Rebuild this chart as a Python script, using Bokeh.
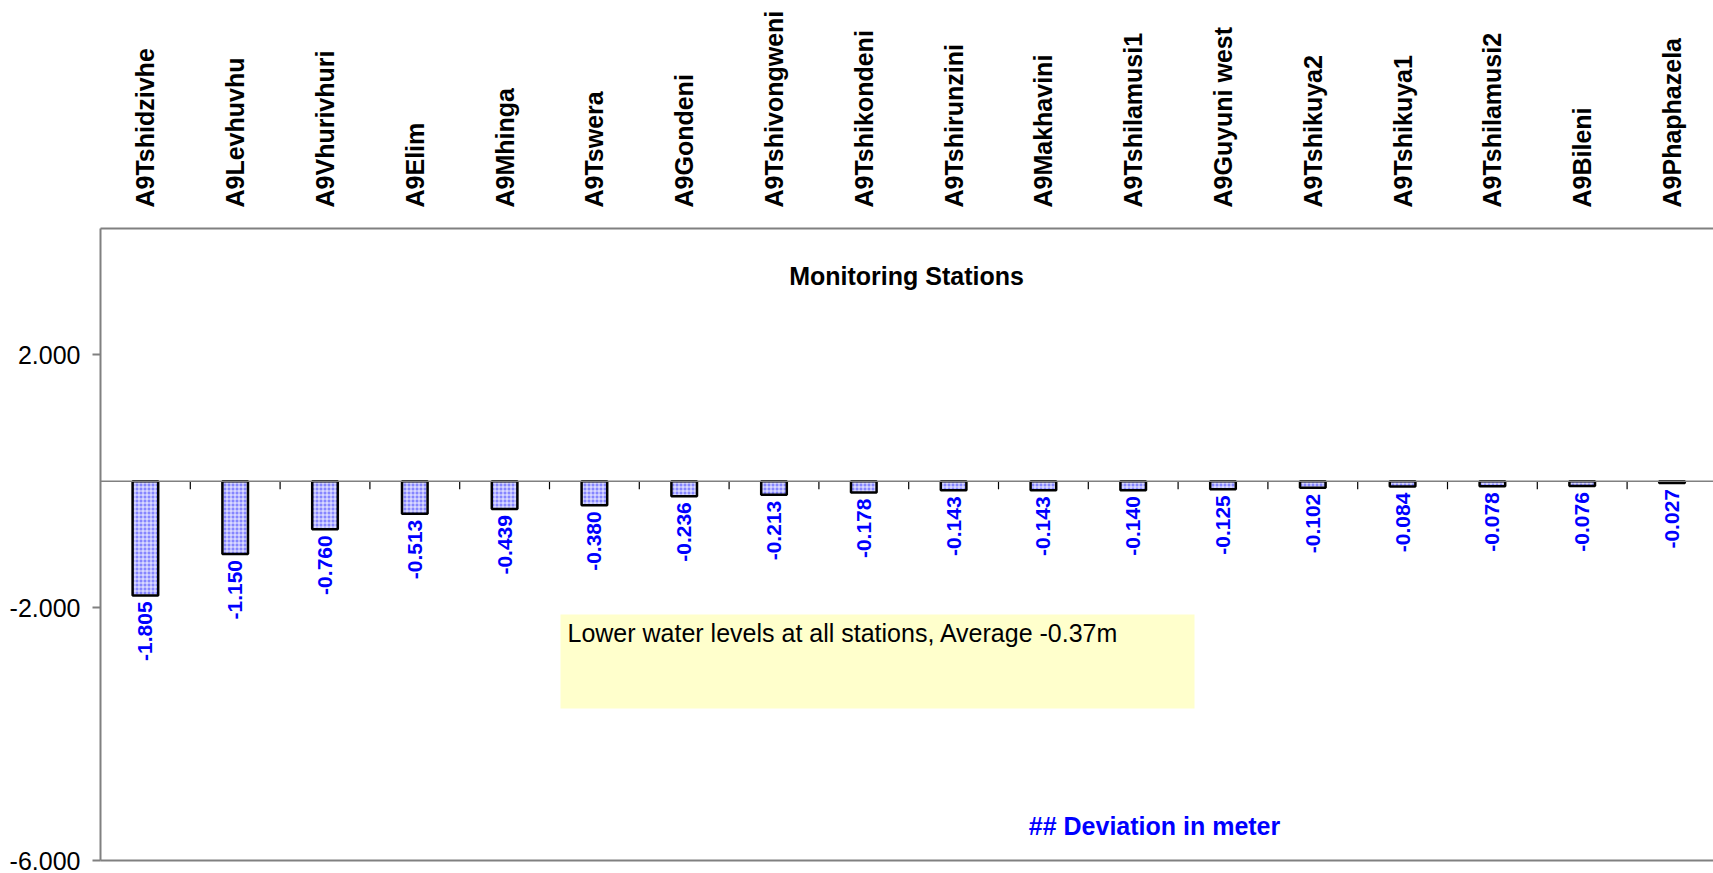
import math

from bokeh.plotting import figure
from bokeh.models import (Range1d, LinearAxis, FixedTicker, NumeralTickFormatter,
                          Label, BoxAnnotation, Span)
from bokeh.core.properties import value
from bokeh.embed import file_html
from bokeh.resources import INLINE

# Water level deviation per monitoring station (m)
stations = [
    "A9Tshidzivhe", "A9Levhuvhu", "A9Vhurivhuri", "A9Elim", "A9Mhinga",
    "A9Tswera", "A9Gondeni", "A9Tshivongweni", "A9Tshikondeni", "A9Tshirunzini",
    "A9Makhavini", "A9Tshilamusi1", "A9Guyuni west", "A9Tshikuya2", "A9Tshikuya1",
    "A9Tshilamusi2", "A9Bileni", "A9Phaphazela",
]
deviation = [
    -1.805, -1.150, -0.760, -0.513, -0.439,
    -0.380, -0.236, -0.213, -0.178, -0.143,
    -0.143, -0.140, -0.125, -0.102, -0.084,
    -0.078, -0.076, -0.027,
]
y_ticks = [-6, -2, 2]

average = sum(deviation) / len(deviation)

# ---- layout in pixels ----
W, H = 1713, 873
LEFT, TOP, BOTTOM = 100, 228, 13
CAT_PX = 89.8
Y_MIN, Y_MAX = -6, 4
frame_w = W - LEFT
frame_h = H - TOP - BOTTOM
unit_px = frame_h / (Y_MAX - Y_MIN)
x_end = frame_w / CAT_PX


def px_x(px):
    return (px - LEFT) / CAT_PX


def px_y(py):
    return Y_MAX - (py - TOP) / unit_px


FONT = "Liberation Sans"
GREY = "#808080"
BLUE = "#0000ff"

p = figure(width=W, height=H, x_range=Range1d(0, x_end), y_range=Range1d(Y_MIN, Y_MAX),
           x_axis_location=None, y_axis_location=None,
           output_backend="svg", toolbar_location=None,
           min_border_left=LEFT, min_border_top=TOP, min_border_bottom=BOTTOM,
           min_border_right=0)
p.outline_line_color = None
p.grid.visible = False
p.background_fill_color = "white"
p.border_fill_color = "white"

# value axis
yaxis = LinearAxis(ticker=FixedTicker(ticks=y_ticks),
                   formatter=NumeralTickFormatter(format="0.000"),
                   axis_line_color=GREY, axis_line_width=2,
                   major_tick_line_color=GREY, major_tick_line_width=2,
                   major_tick_in=0, major_tick_out=8,
                   minor_tick_line_color=None,
                   major_label_text_font=FONT, major_label_text_font_size="25px",
                   major_label_text_color="black", major_label_standoff=12)
p.add_layout(yaxis, "left")

# station names along the top
centers = [i + 0.5 for i in range(len(stations))]
xaxis = LinearAxis(ticker=FixedTicker(ticks=centers),
                   major_label_overrides={c: s for c, s in zip(centers, stations)},
                   major_label_orientation=math.pi / 2,
                   axis_line_color=GREY, axis_line_width=2,
                   major_tick_line_color=None, minor_tick_line_color=None,
                   major_tick_in=0, major_tick_out=0,
                   major_label_text_font=FONT, major_label_text_font_style="bold",
                   major_label_text_font_size="25px", major_label_text_color="black",
                   major_label_standoff=21)
p.add_layout(xaxis, "above")

# bottom border line
bottom_axis = LinearAxis(ticker=FixedTicker(ticks=[]),
                         axis_line_color=GREY, axis_line_width=2,
                         major_tick_line_color=None, minor_tick_line_color=None,
                         major_tick_in=0, major_tick_out=0,
                         major_label_text_font_size="0px", major_label_standoff=0)
p.add_layout(bottom_axis, "below")

# zero line with category tick marks
p.add_layout(Span(location=0, dimension="width", line_color=GREY, line_width=1.5))
bounds = list(range(1, len(stations) + 1))
tick_len = 8 / unit_px
p.segment(x0=bounds, y0=[0] * len(bounds), x1=bounds, y1=[-tick_len] * len(bounds),
          line_color="black", line_width=1.2)

# bars with a fine checked fill
p.vbar(x=centers, top=0, bottom=deviation, width=0.285,
       fill_color="#8585ff", line_color="black", line_width=2.5,
       hatch_pattern="cross", hatch_color="white", hatch_scale=4,
       hatch_weight=1.0, hatch_alpha=0.85)

# value labels below each bar
gap = 6 / unit_px
p.text(x=centers, y=[v - gap for v in deviation], text=[f"{v:.3f}" for v in deviation],
       angle=math.pi / 2, text_align="right", text_baseline="middle",
       text_font=value(FONT), text_font_style="bold", text_font_size="21px",
       text_color=BLUE)

# note box
p.add_layout(BoxAnnotation(left=px_x(560), right=px_x(1194), top=px_y(614), bottom=px_y(708),
                           fill_color="#ffffcc", fill_alpha=1.0, line_color=None,
                           level="underlay"))
p.add_layout(Label(x=px_x(567), y=px_y(632),
                   text=f"Lower water levels at all stations, Average {average:.2f}m",
                   text_font=FONT, text_font_size="25px", text_color="black",
                   text_align="left", text_baseline="middle"))

p.add_layout(Label(x=px_x(906), y=px_y(275), text="Monitoring Stations",
                   text_font=FONT, text_font_style="bold", text_font_size="25px",
                   text_color="black", text_align="center", text_baseline="middle"))

p.add_layout(Label(x=px_x(1154), y=px_y(825), text="## Deviation in meter",
                   text_font=FONT, text_font_style="bold", text_font_size="25px",
                   text_color=BLUE, text_align="center", text_baseline="middle"))

open("out.html", "w").write(file_html(p, INLINE))
